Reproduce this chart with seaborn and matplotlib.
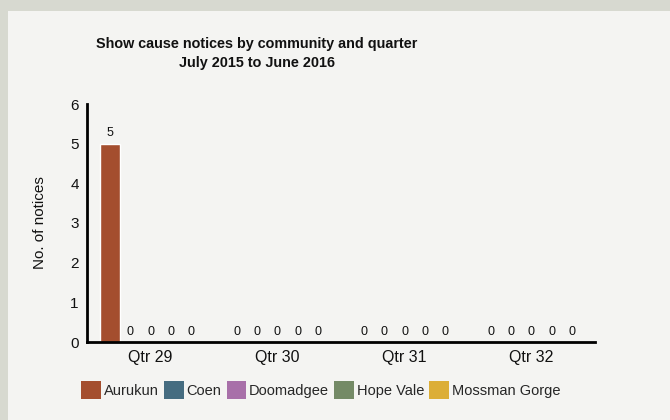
import matplotlib
matplotlib.use("Agg")
import matplotlib.pyplot as plt
from matplotlib.patches import Rectangle
import seaborn as sns
import pandas as pd

quarters = ["Qtr 29", "Qtr 30", "Qtr 31", "Qtr 32"]
communities = ["Aurukun", "Coen", "Doomadgee", "Hope Vale", "Mossman Gorge"]
aurukun = [5, 0, 0, 0]
coen = [0, 0, 0, 0]
doomadgee = [0, 0, 0, 0]
hope_vale = [0, 0, 0, 0]
mossman_gorge = [0, 0, 0, 0]
colors = ["#a44e2e", "#456c80", "#a870a9", "#748a66", "#dcae37"]
title_lines = ["Show cause notices by community and quarter", "July 2015 to June 2016"]

series = [aurukun, coen, doomadgee, hope_vale, mossman_gorge]
rows = []
for name, vals in zip(communities, series):
    for q, v in zip(quarters, vals):
        rows.append({"Quarter": q, "Community": name, "Notices": v})
df = pd.DataFrame(rows)

sns.set_style("white")
plt.rcParams["font.family"] = ["Liberation Sans", "DejaVu Sans"]

fig = plt.figure(figsize=(6.7, 4.2), dpi=100, facecolor="#d7d9d0")
panel = Rectangle((8 / 670, 0), 1, 1 - 11 / 420, transform=fig.transFigure,
                  facecolor="#f4f4f2", edgecolor="none", zorder=-10)
fig.patches.append(panel)

ax = fig.add_axes([87 / 670, 1 - 342 / 420, (595 - 87) / 670, (342 - 104) / 420])
ax.set_facecolor("none")

sns.barplot(data=df, x="Quarter", y="Notices", hue="Community", order=quarters,
            hue_order=communities, palette=colors, width=0.8, saturation=1,
            errorbar=None, ax=ax, legend=False)

for cont in ax.containers:
    ax.bar_label(cont, fmt="%g", padding=3, fontsize=9, color="#111111")

ax.set_ylim(0, 6)
ax.set_xlim(-0.5, 3.5)
ax.set_yticks(range(0, 7))
ax.tick_params(axis="y", direction="in", length=12, width=2, labelsize=11, pad=6,
               color="black", labelcolor="#111111")
ax.tick_params(axis="x", which="major", length=0, labelsize=11.5, pad=6, labelcolor="#111111")
ax.set_xticks([-0.5, 0.5, 1.5, 2.5, 3.5], minor=True)
ax.tick_params(axis="x", which="minor", direction="in", length=5, width=1.5, color="black")
ax.set_xlabel("")
ax.set_ylabel("No. of notices", fontsize=11, color="#111111", labelpad=17)
for s in ["top", "right"]:
    ax.spines[s].set_visible(False)
for s in ["left", "bottom"]:
    ax.spines[s].set_linewidth(2)
    ax.spines[s].set_color("black")

for line, ypx in zip(title_lines, [44, 63]):
    fig.text(257 / 670, 1 - ypx / 420, line, ha="center", va="center",
             fontsize=10.4, fontweight="bold", color="#111111")

handles = [Rectangle((0, 0), 1, 1, facecolor=c, edgecolor="none") for c in colors]
fig.legend(handles, communities, loc="center", bbox_to_anchor=(321 / 670, 1 - 390 / 420),
           ncol=5, frameon=False, fontsize=10.5, handlelength=1.35, handleheight=1.6,
           handletextpad=0.2, columnspacing=0.35, borderaxespad=0)

fig.savefig("out.png", dpi=100, facecolor=fig.get_facecolor())
